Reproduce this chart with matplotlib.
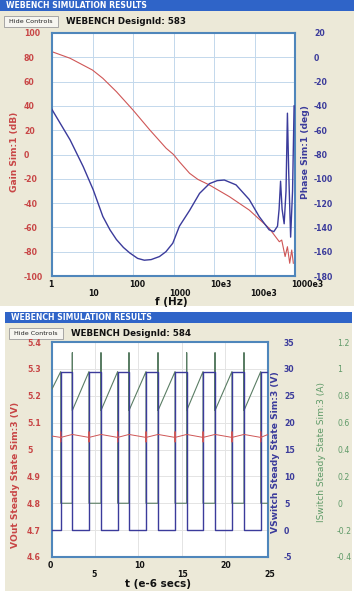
import numpy as np
import matplotlib.pyplot as plt
from matplotlib.patches import Rectangle
from matplotlib.ticker import NullFormatter
from matplotlib.transforms import offset_copy

plt.rcParams['axes.unicode_minus'] = False

W, H = 354, 591

# ---- top panel (bode plot) ----
gain_freq = [1, 2.8, 10, 18, 39, 100, 260, 660, 1000, 1400, 1900, 2500, 4000, 7700, 24000,
             74000, 230000, 410000, 470000, 570000, 650000, 740000, 830000, 910000]
gain_db = [84.6, 79.2, 69.5, 62.7, 51.7, 36.6, 20.2, 5.1, 0.0, -6.0, -11.0, -15.5, -20.5,
           -25.1, -34.7, -45.7, -60.7, -71.8, -70.4, -84.0, -75.9, -89.5, -78.6, -89.5]

phase_freq = [1, 2.8, 5.9, 10.4, 18, 27, 39, 58, 83, 130, 190, 280, 450, 650, 960, 1400,
              2500, 4400, 7700, 12000, 18000, 35000, 74000, 130000, 230000, 300000, 370000,
              405000, 440000, 480000, 540000, 600000, 650000, 700000, 780000, 870000, 950000]
phase_deg = [-43, -68, -90, -109, -131, -142, -150, -156.5, -161, -165.5, -167, -166.5,
             -164, -160, -153, -139, -126, -112, -104, -101.5, -101, -105, -117, -131, -142,
             -143.5, -139, -125, -102, -125, -137, -110, -46, -95, -148, -110, -40]

bode_ticks = [1, 10, 100, 1e3, 1e4, 1e5, 1e6]
bode_labels = ['1', '10', '100', '1000', '10e3', '100e3', '1000e3']
gain_ticks = list(range(-100, 101, 20))
phase_ticks = list(range(-180, 21, 20))

# ---- bottom panel (switching waveforms) ----
t_off = [1.01, 4.28, 7.60, 10.88, 14.24, 17.48, 20.83, 24.16]   # VSwitch goes high (us)
t_on = [2.35, 5.67, 8.91, 12.27, 15.59, 18.87, 22.22]           # VSwitch goes low (us)
t_end = 25
vsw_high, vsw_low = 29.5, 0.0
isw_start, isw_valley, isw_peak, isw_spike, isw_off = 0.85, 0.69, 0.98, 1.12, 0.0
vout_start, vout_low, vout_high = 5.050, 5.045, 5.056
vout_spike = (5.028, 5.066)

time_ticks = [0, 5, 10, 15, 20, 25]
vout_ticks = [4.6, 4.7, 4.8, 4.9, 5.0, 5.1, 5.2, 5.3, 5.4]
vout_labels = ['4.6', '4.7', '4.8', '4.9', '5', '5.1', '5.2', '5.3', '5.4']
vsw_ticks = [-5, 0, 5, 10, 15, 20, 25, 30, 35]
isw_ticks = [-0.4, -0.2, 0, 0.2, 0.4, 0.6, 0.8, 1, 1.2]
isw_labels = ['-0.4', '-0.2', '0', '0.2', '0.4', '0.6', '0.8', '1', '1.2']

BEIGE = '#ece9d8'
BAR = '#2f64c8'
FRAME = '#4f86bb'
RED = '#cf5656'
REDTXT = '#c84646'
BLUE = '#3b3b9b'
GREEN = '#5f9a68'
GREENLINE = '#5a7d64'
PT = 72 / 100  # points per pixel


def box(x0, y0, x1, y1):
    return [x0 / W, 1 - y1 / H, (x1 - x0) / W, (y1 - y0) / H]


def ftext(x, y, s, **kw):
    fig.text(x / W, 1 - y / H, s, **kw)


def rect(x0, y0, x1, y1, **kw):
    fig.add_artist(Rectangle((x0 / W, 1 - y1 / H), (x1 - x0) / W, (y1 - y0) / H,
                             transform=fig.transFigure, **kw))


def header(y0, x0, x1, design):
    rect(x0, y0, x1, y0 + 11, facecolor=BAR, edgecolor='none', zorder=-4)
    ftext(x0 + 6, y0 + 6, 'WEBENCH SIMULATION RESULTS', color='white', fontsize=5.6,
          fontweight='bold', va='center')
    rect(x0 + 4, y0 + 16, x0 + 58, y0 + 27, facecolor='#f6f5f0', edgecolor='#9a9a9a',
         linewidth=0.6, zorder=-3)
    ftext(x0 + 31, y0 + 21.5, 'Hide Controls', fontsize=4.6, ha='center', va='center',
          color='#222222')
    ftext(x0 + 66, y0 + 21.5, 'WEBENCH DesignId: ' + design, fontsize=6.3,
          fontweight='bold', va='center', color='#111111')


def frame(ax):
    for s in ax.spines.values():
        s.set_color(FRAME)
        s.set_linewidth(1.5)


def hide_spines(ax):
    for s in ax.spines.values():
        s.set_visible(False)


def x_labels(ax, ticks, labels, size):
    for k, (tk, lb) in enumerate(zip(ticks, labels)):
        tr = offset_copy(ax.get_xaxis_transform(), fig=fig, x=-4, y=-4 - 9 * (k % 2),
                         units='dots')
        ax.text(tk, 0, lb, transform=tr, ha='left', va='top', fontsize=size,
                fontweight='bold', color='#111111')


fig = plt.figure(figsize=(W / 100, H / 100), dpi=100)
fig.patch.set_facecolor('white')

# backgrounds
rect(0, 11, W, 306, facecolor=BEIGE, edgecolor='none', zorder=-5)
rect(5, 323, 352, H, facecolor=BEIGE, edgecolor='none', zorder=-5)
header(0, 0, W, '583')
header(312, 5, 352, '584')

# ---------------- top: bode plot ----------------
ax = fig.add_axes(box(52, 33, 295, 276))
ax.set_facecolor('white')
ax.plot(gain_freq, gain_db, color=RED, linewidth=0.8)
ax.set_xscale('log')
ax.set_xlim(1, 1e6)
ax.set_ylim(-100, 100)
ax.set_yticks(gain_ticks)
ax.set_xticks(bode_ticks)
ax.set_xticklabels([])
ax.xaxis.set_minor_formatter(NullFormatter())
ax.grid(True, which='major', color='#c3d8ec', linewidth=0.7)
ax.grid(True, which='minor', axis='x', color='#d9e6f3', linewidth=0.6)
ax.tick_params(which='both', length=0)
ax.tick_params(axis='y', labelsize=5.6, labelcolor=REDTXT, pad=28 * PT)
for lb in ax.get_yticklabels():
    lb.set_ha('left')
    lb.set_fontweight('bold')
ax.set_axisbelow(True)
frame(ax)
x_labels(ax, bode_ticks, bode_labels, 5.6)

axp = ax.twinx()
axp.plot(phase_freq, phase_deg, color=BLUE, linewidth=1.0)
axp.set_ylim(-180, 20)
axp.set_yticks(phase_ticks)
axp.tick_params(length=0, labelsize=5.6, labelcolor=BLUE, pad=19 * PT)
for lb in axp.get_yticklabels():
    lb.set_fontweight('bold')
hide_spines(axp)

ftext(14, 152, 'Gain Sim:1 (dB)', rotation=90, color=REDTXT, fontsize=6.6,
      fontweight='bold', ha='center', va='center')
ftext(305, 152, 'Phase Sim:1 (deg)', rotation=90, color=BLUE, fontsize=6.6,
      fontweight='bold', ha='center', va='center')
ftext(171, 302, 'f (Hz)', fontsize=7.5, fontweight='bold', ha='center', va='center',
      color='#111111')

# ---------------- bottom: switching waveforms ----------------
events = sorted([(t, 'off') for t in t_off] + [(t, 'on') for t in t_on])
tv, vv = [0], [vsw_low]
ti, ii = [0], [isw_start]
to, vo = [0], [vout_start]
level = vsw_low
for t, kind in events:
    if kind == 'off':
        tv += [t, t]
        vv += [vsw_low, vsw_high]
        ti += [t, t]
        ii += [isw_peak, isw_off]
        to += [t, t, t, t]
        vo += [vout_low, vout_spike[0], vout_spike[1], vout_low]
        level = vsw_high
    else:
        tv += [t, t]
        vv += [vsw_high, vsw_low]
        ti += [t, t, t]
        ii += [isw_off, isw_spike, isw_valley]
        to += [t]
        vo += [vout_high]
        level = vsw_low
tv.append(t_end)
vv.append(level)
ti.append(t_end)
ii.append(isw_off)
to.append(t_end)
vo.append(vout_high)

bx = fig.add_axes(box(52, 342, 268, 557))
bx.set_facecolor('white')
bx.set_xlim(0, t_end)
bx.set_ylim(4.6, 5.4)
bx.set_xticks(time_ticks)
bx.set_xticklabels([])
bx.set_yticks(vout_ticks)
bx.set_yticklabels(vout_labels)
bx.grid(True, color='#e4e4e4', linewidth=0.7)
bx.tick_params(length=0)
bx.tick_params(axis='y', labelsize=5.6, labelcolor=REDTXT, pad=25 * PT)
for lb in bx.get_yticklabels():
    lb.set_ha('left')
    lb.set_fontweight('bold')
bx.set_axisbelow(True)
frame(bx)
x_labels(bx, time_ticks, [str(v) for v in time_ticks], 5.6)

bi = bx.twinx()
bi.plot(ti, ii, color=GREENLINE, linewidth=0.8)
bi.set_ylim(-0.4, 1.2)
bi.set_yticks(isw_ticks)
bi.set_yticklabels(isw_labels)
bi.tick_params(length=0, labelsize=5.6, labelcolor=GREEN, pad=69 * PT)
hide_spines(bi)

bs = bx.twinx()
bs.plot(tv, vv, color=BLUE, linewidth=1.0)
bs.set_ylim(-5, 35)
bs.set_yticks(vsw_ticks)
bs.tick_params(length=0, labelsize=5.6, labelcolor=BLUE, pad=16 * PT)
for lb in bs.get_yticklabels():
    lb.set_fontweight('bold')
hide_spines(bs)

bo = bx.twinx()
bo.plot(to, vo, color=RED, linewidth=0.7)
bo.set_ylim(4.6, 5.4)
bo.set_yticks([])
hide_spines(bo)

ftext(16, 475, 'VOut Steady State Sim:3 (V)', rotation=90, color=REDTXT, fontsize=6.6,
      fontweight='bold', ha='center', va='center')
ftext(275, 452, 'VSwitch Steady State Sim:3 (V)', rotation=90, color=BLUE, fontsize=6.6,
      fontweight='bold', ha='center', va='center')
ftext(322, 452, 'ISwitch Steady State Sim:3 (A)', rotation=90, color=GREEN, fontsize=6.6,
      ha='center', va='center')
ftext(158, 584, 't (e-6 secs)', fontsize=7.5, fontweight='bold', ha='center',
      va='center', color='#111111')

fig.savefig('out.png', dpi=100)
